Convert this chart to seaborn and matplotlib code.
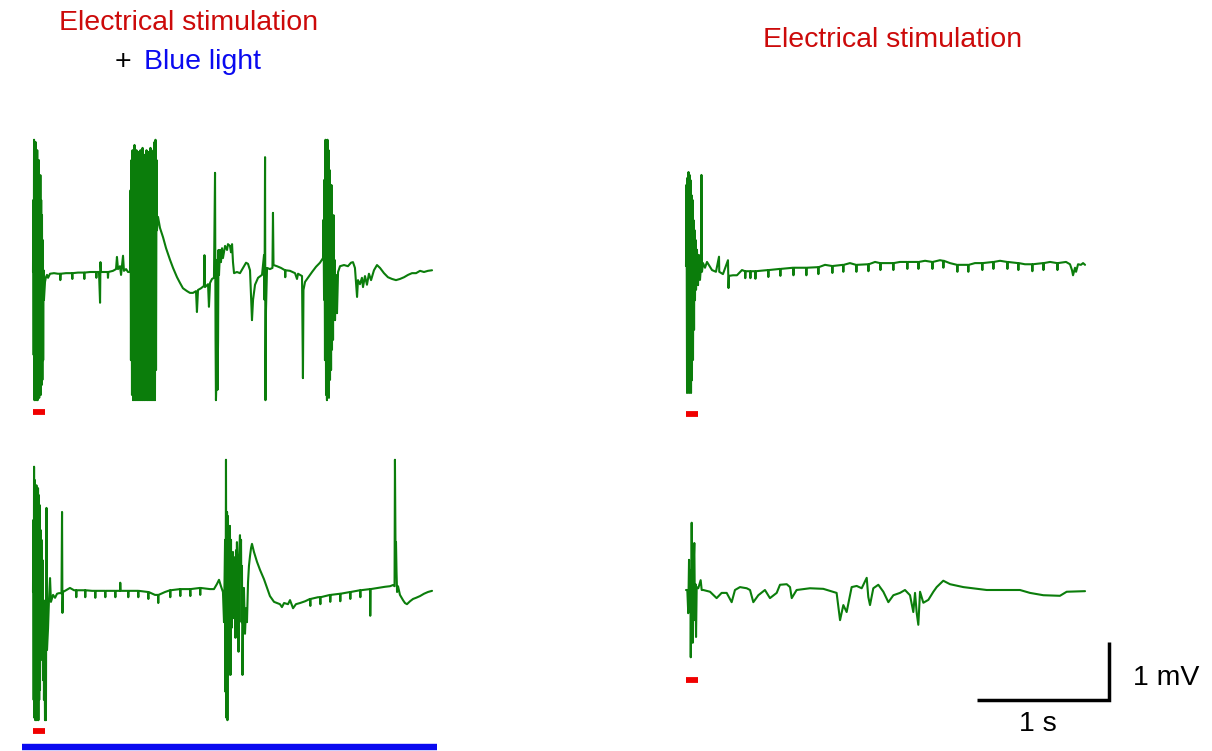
import numpy as np
import pandas as pd
import matplotlib
matplotlib.use("Agg")
import matplotlib.pyplot as plt
import seaborn as sns

# ---------------- data (time in s from stimulus onset, voltage in mV re. baseline) ----------------
# Top-left: electrical stimulation + blue light, trial 1
lt_t = [0.000,0.002,0.005,0.008,0.011,0.014,0.017,0.020,0.023,0.026,0.029,0.032,0.035,0.038,0.041,0.044,0.047,0.050,0.053,0.056,0.059,0.062,0.065,0.068,0.071,0.074,0.077,0.080,0.083,0.087,0.091,0.098,0.106,0.114,0.129,
        0.159,0.189,0.205,0.207,0.210,0.250,0.295,0.298,0.300,0.341,0.386,0.389,0.391,0.432,0.477,0.480,0.483,0.500,0.508,0.511,0.515,0.553,0.566,0.568,0.571,0.606,0.629,0.636,0.644,0.659,0.667,0.682,0.689,0.705,0.720,0.735,
        0.739,0.742,0.746,0.750,0.754,0.758,0.761,0.765,0.769,0.773,0.777,0.780,0.784,0.788,0.792,0.795,0.799,0.803,0.807,0.811,0.814,0.818,0.822,0.826,0.830,0.833,0.837,0.841,0.845,0.848,0.852,0.856,0.860,0.864,0.867,0.871,0.875,0.879,0.883,0.886,0.890,0.894,0.898,0.902,0.905,0.909,0.913,0.917,0.920,0.924,0.928,0.932,0.936,0.939,
        0.947,0.962,0.985,1.008,1.038,1.061,1.091,1.114,1.136,1.167,1.189,1.212,1.235,1.242,1.250,1.273,1.295,1.299,1.303,1.326,1.333,1.341,1.356,1.371,1.379,1.383,1.386,1.390,1.394,1.398,1.402,1.405,1.409,1.417,1.424,1.432,1.439,1.455,1.470,1.477,1.492,1.500,1.508,1.515,1.523,1.545,1.568,1.591,1.614,1.629,1.644,1.659,1.667,1.682,1.705,1.735,1.750,1.754,1.758,1.761,1.765,1.773,1.795,1.814,1.818,1.822,1.848,1.879,1.909,1.911,1.913,1.947,1.985,2.000,2.008,2.038,2.045,2.049,2.061,2.083,2.114,2.144,2.174,2.197,
        2.201,2.205,2.208,2.212,2.216,2.220,2.223,2.227,2.231,2.235,2.239,2.242,2.246,2.250,2.254,2.258,2.261,2.265,2.269,2.273,2.277,2.280,2.284,2.288,2.295,2.303,2.311,2.326,2.356,2.386,2.409,2.424,2.439,2.455,2.462,2.477,2.492,2.500,2.515,2.530,2.545,2.561,2.583,2.606,2.629,2.659,2.689,2.720,2.750,2.780,2.811,2.841,2.871,2.902,2.932,2.962,2.992,3.023]
lt_v = [0.00,1.24,-1.43,2.28,-2.21,2.10,-2.17,2.24,-2.21,1.84,-2.12,2.10,-2.21,1.67,-2.07,1.93,-2.17,1.50,-2.03,1.67,-2.12,1.24,-1.95,0.98,-1.86,0.55,-1.52,0.03,-0.48,-0.31,-0.17,-0.09,-0.05,-0.10,-0.03,
        -0.02,-0.03,-0.03,-0.14,-0.03,-0.02,-0.02,-0.12,-0.02,-0.01,-0.01,-0.12,-0.01,0.00,0.00,-0.10,0.00,0.00,-0.53,0.17,0.00,0.00,0.00,-0.10,0.00,0.02,0.05,0.26,0.05,0.10,-0.05,0.28,0.02,0.05,0.00,0.00,
        1.41,-1.52,1.93,-2.12,2.10,-2.21,2.02,-2.17,2.19,-2.21,1.93,-2.03,2.10,-2.21,1.84,-2.12,2.07,-2.21,1.97,-1.95,2.10,-2.21,1.90,-2.17,2.14,-2.21,1.76,-2.07,2.02,-2.21,1.93,-2.14,2.10,-2.21,1.84,-2.03,2.07,-2.21,1.93,-2.17,2.14,-2.21,1.76,-1.86,2.02,-2.21,2.10,-2.12,2.24,-2.21,2.28,-1.69,1.93,0.72,
        0.95,0.76,0.60,0.41,0.21,0.07,-0.09,-0.19,-0.28,-0.33,-0.36,-0.36,-0.33,-0.69,-0.31,-0.28,-0.24,0.29,-0.26,-0.21,-0.60,-0.19,-0.12,-0.10,1.71,-1.17,-2.21,-1.86,0.21,-2.03,-1.17,0.38,-0.05,0.38,0.17,0.41,0.24,0.45,0.38,0.48,0.45,0.34,0.48,0.17,-0.02,0.00,-0.02,0.07,0.16,0.14,0.03,-0.83,-0.48,-0.22,-0.10,-0.05,0.29,-0.48,1.98,-2.21,-0.66,0.07,0.05,0.07,1.02,0.12,0.10,0.07,0.03,-0.09,0.03,0.02,-0.02,-0.12,-0.03,-0.07,-1.83,-0.31,-0.17,-0.10,0.00,0.09,0.16,0.24,
        0.90,-0.48,1.59,-1.52,2.28,-2.12,2.19,-2.21,2.28,-2.03,2.10,-2.17,1.76,-1.86,1.24,-1.69,1.50,-1.34,0.72,-1.17,0.98,-0.74,0.21,-0.83,-0.05,-0.71,0.00,0.10,0.12,0.10,0.16,0.17,0.07,-0.43,-0.14,-0.21,-0.10,-0.26,-0.07,-0.22,-0.03,-0.14,0.03,0.12,0.07,-0.02,-0.09,-0.12,-0.14,-0.12,-0.09,-0.05,-0.02,-0.02,0.02,0.00,0.02,0.03]

# Top-right: electrical stimulation only, trial 1
rt_t = [0.000,0.004,0.008,0.011,0.015,0.019,0.023,0.027,0.030,0.034,0.038,0.042,0.045,0.049,0.053,0.057,0.061,0.064,0.068,0.072,0.076,0.083,0.091,0.098,0.106,0.114,0.117,0.121,
        0.129,0.144,0.159,0.197,0.227,0.250,0.252,0.280,0.318,0.322,0.326,0.356,0.386,0.424,0.447,0.449,0.452,
        0.485,0.488,0.491, 0.523,0.526,0.529, 0.621,0.624,0.627, 0.712,0.715,0.718, 0.811,0.814,0.817,
        0.909,0.912,0.915, 1.000,1.003,1.006, 1.053, 1.106,1.109,1.112, 1.189,1.192,1.195, 1.242,
        1.288,1.291,1.294, 1.379,1.382,1.385, 1.432, 1.470,1.473,1.476, 1.568,1.571,1.574, 1.621,
        1.674,1.677,1.680, 1.758,1.761,1.764, 1.811, 1.864,1.867,1.870, 1.924, 1.947,1.950,1.953, 2.000,
        2.053,2.056,2.059, 2.136,2.139,2.142, 2.189, 2.242,2.245,2.248, 2.326,2.329,2.332, 2.379,
        2.432,2.435,2.438, 2.515,2.518,2.521, 2.568, 2.621,2.624,2.627, 2.705,2.708,2.711, 2.758,
        2.811,2.814,2.817, 2.879,2.909,2.924,2.932,2.947,2.955,2.970,2.992,3.008,3.023]
rt_v = [0.00,1.40,-2.19,1.52,-2.14,1.62,-2.19,1.57,-2.05,1.48,-2.19,1.22,-1.97,1.14,-1.62,0.79,-1.10,0.62,-0.59,0.45,-0.41,0.28,-0.33,0.19,-0.24,0.02,1.57,-0.10,
        0.05,-0.03,0.07,-0.07,-0.10,0.16,-0.10,-0.14,0.10,-0.38,-0.17,-0.16,-0.16,-0.07,-0.09,-0.21,-0.09,
        -0.09,-0.21,-0.09, -0.09,-0.22,-0.09, -0.07,-0.19,-0.07, -0.05,-0.17,-0.05, -0.03,-0.16,-0.03,
        -0.03,-0.16,-0.03, -0.02,-0.14,-0.02, 0.02, 0.00,-0.12,0.00, 0.02,-0.10,0.02, 0.05,
        0.02,-0.10,0.02, 0.03,-0.09,0.03, 0.07, 0.05,-0.07,0.05, 0.05,-0.07,0.05, 0.07,
        0.07,-0.05,0.07, 0.07,-0.05,0.07, 0.09, 0.07,-0.05,0.07, 0.10, 0.09,-0.03,0.09, 0.05,
        0.02,-0.10,0.02, 0.02,-0.10,0.02, 0.05, 0.05,-0.07,0.05, 0.07,-0.05,0.07, 0.09,
        0.07,-0.05,0.07, 0.05,-0.07,0.05, 0.03, 0.03,-0.09,0.03, 0.05,-0.07,0.05, 0.07,
        0.05,-0.07,0.05, 0.07,0.03,-0.07,-0.16,-0.03,-0.10,0.03,0.02,0.05,0.02]

# Bottom-left: electrical stimulation + blue light, trial 2
lb_t = [0.000,0.002,0.005,0.008,0.011,0.014,0.017,0.020,0.023,0.026,0.029,0.032,0.035,0.038,0.041,0.044,0.047,0.050,0.053,0.057,0.061,0.064,0.068,0.072,0.076,0.080,0.083,0.087,0.091,0.095,0.098,0.102,0.106,0.114,0.121,0.129,0.136,0.152,0.167,0.182,0.197,0.216,0.220,0.223,0.227,
        0.250,0.280,0.311, 0.326,0.328,0.330, 0.394,0.396,0.398, 0.447, 0.470,0.472,0.474, 0.545,0.548,0.550,
        0.621,0.624,0.626, 0.659,0.661,0.664, 0.720,0.722,0.724, 0.795,0.798,0.800, 0.871,0.874,0.876, 0.924,
        0.947,0.949,0.951, 1.000, 1.038,1.040,1.042, 1.114,1.116,1.118, 1.189,1.192,1.194, 1.265,1.267,1.269,
        1.341,1.371,1.394,1.409,1.424,1.439,
        1.447,1.455,1.458,1.462,1.466,1.470,1.473,1.477,1.481,1.485,1.489,1.492,1.496,1.500,1.504,1.508,1.511,1.515,1.519,1.523,1.527,1.530,1.534,1.538,1.542,1.545,1.549,1.553,1.557,1.561,1.568,1.572,1.576,1.580,1.583,1.587,1.591,1.598,1.606,1.614,1.621,1.629,1.636,1.644,1.652,1.659,
        1.674,1.697,1.720,1.750,1.773,1.795,1.826,1.848,1.871,1.886,1.902,1.932,1.947,1.970,1.992,2.023,2.061,2.098,2.101,2.103,2.159,2.174,2.177,2.179,2.250,2.252,2.255,2.326,2.328,2.330,2.402,2.404,2.406,2.477,2.480,2.482,2.553,2.555,2.558,2.614,2.667,2.705,2.727,2.739,2.742,2.746,2.750,2.754,2.758,2.765,2.780,2.803,2.818,2.833,2.856,2.879,2.902,2.932,2.962,2.992,3.023]
lb_v = [0.00,1.24,-1.86,2.16,-2.17,1.93,-2.21,1.81,-2.12,1.84,-2.21,1.76,-2.03,1.79,-2.21,1.67,-1.86,1.50,-1.69,1.07,-1.17,0.90,-0.83,0.55,-1.52,-0.14,-1.86,-0.83,-2.21,-1.00,-2.21,1.45,-1.00,-0.62,-0.14,0.24,-0.17,-0.05,-0.10,-0.03,-0.02,-0.02,1.38,-0.36,0.00,
        0.03,0.07,0.03, 0.03,-0.09,0.03, 0.03,-0.09,0.03, 0.02, 0.02,-0.10,0.02, 0.02,-0.09,0.02,
        0.02,-0.09,0.02, 0.02,0.16,0.02, 0.02,-0.09,0.02, 0.02,-0.09,0.02, 0.00,-0.12,0.00, -0.05,
        -0.05,-0.19,-0.05, 0.00, 0.03,-0.09,0.03, 0.05,-0.07,0.05, 0.05,-0.07,0.05, 0.07,-0.05,0.07,
        0.05,0.05,0.14,0.21,0.10,0.00,
        -0.52,0.90,-1.72,2.28,-2.17,1.38,-2.21,1.31,-1.43,0.93,-1.00,1.14,-1.43,0.90,-0.62,0.52,-0.38,0.69,-0.45,0.41,-0.31,0.60,-0.79,0.72,-0.52,0.86,-0.41,0.52,-1.03,0.62,0.98,0.34,0.90,-0.52,0.45,-1.43,-0.62,0.07,-0.72,-0.28,-0.52,0.17,0.45,0.62,0.76,0.83,
        0.69,0.52,0.38,0.22,0.07,-0.07,-0.17,-0.19,-0.21,-0.26,-0.19,-0.21,-0.14,-0.28,-0.21,-0.19,-0.16,-0.12,-0.24,-0.12,-0.09,-0.09,-0.21,-0.09,-0.05,-0.17,-0.05,-0.03,-0.16,-0.03,0.00,-0.12,0.00,0.03,-0.09,0.03,0.05,-0.41,0.05,0.07,0.09,0.10,0.12,0.10,2.28,0.84,0.86,0.34,0.00,0.10,-0.05,-0.14,-0.19,-0.21,-0.16,-0.12,-0.10,-0.07,-0.03,0.00,0.02]

# Bottom-right: electrical stimulation only, trial 2
rb_t = [0.000,0.010,0.017,0.023,0.028,0.033,0.036,0.043,0.048,0.051,0.055,0.063,0.068,0.072,0.076,0.081,0.093,0.111,0.119,0.131,0.182,0.232,0.270,0.308,0.346,0.371,0.409,0.460,0.485,0.510,0.548,0.598,0.636,0.687,0.712,0.763,0.788,0.801,0.838,0.939,1.040,1.141,1.167,1.192,1.217,1.255,1.293,1.331,1.369,1.381,1.394,1.419,1.457,1.495,1.533,1.571,1.621,1.659,1.697,1.722,1.735,1.748,1.760,1.773,1.798,1.836,1.874,1.899,1.949,2.000,2.101,2.278,2.530,2.606,2.707,2.833,2.884,3.023]
rb_v = [0.00,0.00,-0.40,0.52,-0.34,0.34,-1.16,1.16,-0.21,-0.91,0.22,0.81,-0.52,0.10,-0.81,0.05,0.03,0.17,0.00,0.00,-0.03,-0.14,-0.05,-0.05,-0.21,0.00,0.05,0.03,0.00,-0.21,-0.09,0.00,-0.14,-0.05,0.09,0.10,0.05,-0.14,0.00,0.03,0.02,-0.05,-0.52,-0.26,-0.38,0.05,0.07,0.03,0.21,-0.12,-0.26,0.03,0.09,-0.03,-0.21,-0.09,-0.05,0.00,-0.09,-0.38,-0.05,-0.40,-0.60,-0.03,-0.22,-0.17,-0.03,0.05,0.16,0.10,0.05,0.00,0.00,-0.05,-0.09,-0.10,-0.03,-0.02]

stim_duration = 0.09      # s, red bar
light_on, light_off = -0.083, 3.06   # s, blue bar (bottom-left)
scale_time, scale_volt = 1.0, 1.0   # s, mV

titles = ["Electrical stimulation", "+", "Blue light", "Electrical stimulation"]
scale_labels = ["1 s", "1 mV"]

# ---------------- layout ----------------
W, H = 1212, 751
PX_S, PX_MV = 132.0, 58.0            # pixels per second / per mV
GREEN, RED_TXT, RED_BAR, BLUE = "#0b7d0b", "#cc0a0a", "#f00000", "#0a0af0"

def sx(px):  # pixel column -> seconds
    return px / PX_S
def sy(py):  # pixel row -> mV (top of figure = 0)
    return -py / PX_MV

sns.set_theme(style="white")
plt.rcParams['font.family'] = ['Liberation Sans', 'DejaVu Sans']

fig = plt.figure(figsize=(W / 100, H / 100), dpi=100)
ax = fig.add_axes([0, 0, 1, 1])
ax.set_xlim(0, sx(W))
ax.set_ylim(sy(H), 0)
ax.axis("off")

traces = [
    (lt_t, lt_v, 33, 272, 412.5),
    (rt_t, rt_v, 686, 266, 414.5),
    (lb_t, lb_v, 33, 592, 731.0),
    (rb_t, rb_v, 686, 590, 680.5),
]
for t, v, x0, y0, ystim in traces:
    assert len(t) == len(v), (len(t), len(v))
    df = pd.DataFrame({"t": np.asarray(t) + sx(x0), "v": np.asarray(v) + sy(y0)})
    sns.lineplot(data=df, x="t", y="v", ax=ax, color=GREEN, linewidth=1.5,
                 sort=False, estimator=None)
    ax.plot([sx(x0), sx(x0) + stim_duration], [sy(ystim)] * 2, color=RED_BAR,
            lw=4.2, solid_capstyle="butt")

# blue light bar
ax.plot([sx(33) + light_on, sx(33) + light_off], [sy(747.5)] * 2, color=BLUE,
        lw=4.6, solid_capstyle="butt")

# scale bar
cx, cy = sx(1109), sy(700.5)
ax.plot([cx - scale_time, cx, cx], [cy, cy, cy + scale_volt], color="black",
        lw=2.5, solid_joinstyle="miter", solid_capstyle="butt")
ax.set_xlabel(""); ax.set_ylabel("")

fs = 20.5
def ftxt(px, py, s, **kw):
    fig.text(px / W, 1 - py / H, s, fontsize=fs, va="center", **kw)

ftxt(189, 23, titles[0], ha="center", color=RED_TXT)
ftxt(131, 62, titles[1], ha="right", color="black")
ftxt(144, 62, titles[2], ha="left", color=BLUE)
ftxt(893, 40, titles[3], ha="center", color=RED_TXT)
ftxt(1038, 724, scale_labels[0], ha="center", color="black")
ftxt(1133, 678, scale_labels[1], ha="left", color="black")

fig.savefig("out.png", dpi=100)
